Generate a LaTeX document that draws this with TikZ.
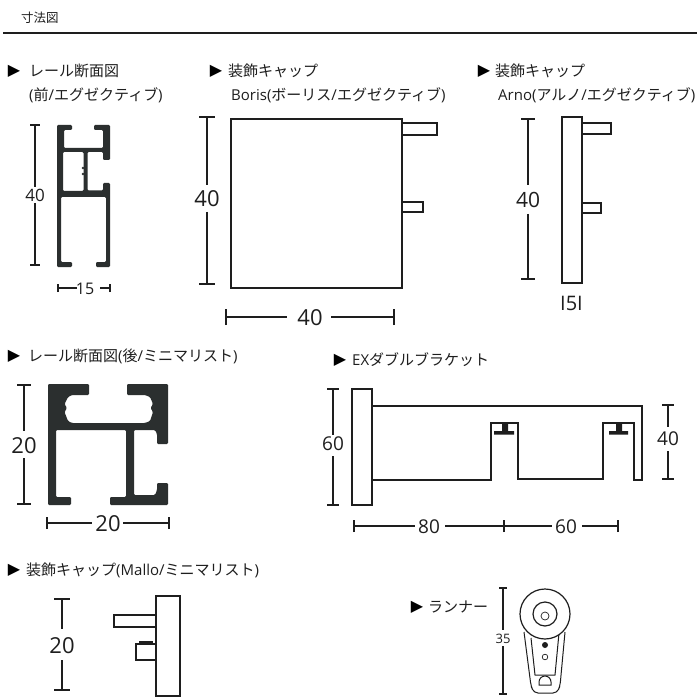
\documentclass[tikz,border=0pt]{standalone}
\usepackage{fontspec}
\setmainfont{Open Sans}
\newfontfamily\jp{Noto Sans CJK JP}
\newfontfamily\sym{DejaVu Sans}
\definecolor{ink}{HTML}{1E1E1E}
\definecolor{alu}{HTML}{2B2F2F}
\tikzset{
  part/.style={draw=ink,line width=1.5pt,fill=white},
  thin part/.style={draw=ink,line width=1pt},
  dimline/.style={draw=ink,line width=1.1pt},
  profile/.style={fill=alu,even odd rule,rounded corners=1.2pt},
  solid ink/.style={fill=ink},
  heading/.style={anchor=west,inner sep=0pt,text=ink,font=\fontsize{15}{17}\selectfont},
  mark tri/.style={anchor=center,inner sep=0pt,text=black,font=\sym\fontsize{16}{16}\selectfont},
  dimtext/.style={inner sep=0pt,text=ink}
}
% \vdimn{name}{x}{y1}{gapstart}{gapend}{y2}{half tick}{label y}{label}
\newcommand{\vdimn}[9]{%
  \coordinate (#1a) at (#2,#3);\coordinate (#1b) at (#2,#4);\coordinate (#1c) at (#2,#5);\coordinate (#1d) at (#2,#6);
  \draw[dimline] (#1a) -- (#1b) (#1c) -- (#1d);
  \draw[dimline] ([xshift=-#7pt]#1a) -- ([xshift=#7pt]#1a) ([xshift=-#7pt]#1d) -- ([xshift=#7pt]#1d);
  \lbl{#1t}{#2}{#8}{#9}}
\newcommand{\lbl}[4]{\node[dimtext,font=\fontsize{\dimsize}{\dimsize}\selectfont] (#1) at (#2,#3) {#4};}
\newcommand{\dimsize}{18}
\newcommand{\head}[5]{% name, tri x, text x, y, text
  \node[mark tri] (#1m) at (#2,#4) {▶};
  \node[heading] (#1) at (#3,#4) {#5};}
\begin{document}
\begin{tikzpicture}[x=1pt,y=-1pt]
\useasboundingbox (0,0) rectangle (700,700);
\fill[white] (0,0) rectangle (700,700);
% title
\node[heading,font=\fontsize{12.5}{15}\selectfont] (title) at (21,18) {\jp 寸法図};
\coordinate (ruleL) at (3,33); \coordinate (ruleR) at (697,33);
\draw[ink,line width=1.5pt] (ruleL) -- (ruleR);
% headings
\head{h1}{14}{29}{71}{\jp レール断面図}
\node[heading] (h1b) at (29,95) {(\jp 前\rmfamily/\jp エグゼクティブ\rmfamily)};
\head{h2}{216}{228}{71}{\jp 装飾キャップ}
\node[heading] (h2b) at (231,95) {Boris(\jp ボーリス\rmfamily/\jp エグゼクティブ\rmfamily)};
\head{h3}{484}{495}{71}{\jp 装飾キャップ}
\node[heading] (h3b) at (498,95) {Arno(\jp アルノ\rmfamily/\jp エグゼクティブ\rmfamily)};
\head{h4}{14}{28}{356}{\jp レール断面図\rmfamily(\jp 後\rmfamily/\jp ミニマリスト\rmfamily)}
\head{h5}{340}{352}{360}{EX\jp ダブルブラケット}
\head{h6}{14}{26}{570}{\jp 装飾キャップ\rmfamily(Mallo/\jp ミニマリスト\rmfamily)}
\head{h7}{417}{428}{607}{\jp ランナー}
% rail 1
\fill[profile] (57,125) -- (72,125) -- (72,130) -- (64,130) -- (64,148) -- (103,148) -- (103,130) -- (94,130) -- (94,125) -- (110,125) -- (110,160) -- (103,160) -- (103,152) -- (87.5,152) -- (87.5,190.5) -- (103,190.5) -- (103,183) -- (110,183) -- (110,267) -- (96,267) -- (96,262) -- (106,262) -- (106,197) -- (61,197) -- (61,262) -- (72,262) -- (72,267) -- (57,267) -- cycle
 (63,152) -- (83.5,152) -- (83.5,191) -- (63,191) -- cycle;
\fill[alu] (83,168) circle[radius=1.3pt] (83,174) circle[radius=1.3pt];
\renewcommand{\dimsize}{17}
\vdimn{d1}{35}{125}{187}{203}{265}{5}{195}{40}
\coordinate (d2a) at (58,288); \coordinate (d2b) at (77,288); \coordinate (d2c) at (100,288); \coordinate (d2d) at (110,288);
\draw[dimline] (d2a) -- (d2b) (d2c) -- (d2d);
\draw[dimline] ([yshift=-4pt]d2a) -- ([yshift=4pt]d2a) ([yshift=-4pt]d2d) -- ([yshift=4pt]d2d);
\renewcommand{\dimsize}{16}
\lbl{d2t}{85}{289}{15}
% Boris
\draw[part] (402,123) rectangle (437,135);
\draw[part] (402,202) rectangle (423,212);
\draw[part] (231,119) rectangle (402,288);
\renewcommand{\dimsize}{22}
\vdimn{d3}{207}{117}{185}{212}{284}{8}{199}{40}
\coordinate (d4a) at (226,317); \coordinate (d4b) at (287,317); \coordinate (d4c) at (331,317); \coordinate (d4d) at (394,317);
\draw[dimline] (d4a) -- (d4b) (d4c) -- (d4d);
\draw[dimline] ([yshift=-8pt]d4a) -- ([yshift=8pt]d4a) ([yshift=-8pt]d4d) -- ([yshift=8pt]d4d);
\lbl{d4t}{310}{318}{40}
% Arno
\draw[part] (582,123) rectangle (611,134);
\draw[part] (582,203) rectangle (601,213);
\draw[part] (562,117) rectangle (582,283);
\renewcommand{\dimsize}{21}
\vdimn{d5}{528}{119}{185}{214}{279}{7}{200}{40}
\renewcommand{\dimsize}{20}
\lbl{d6t}{571.5}{303}{I5I}
% rail 2
\fill[profile] (48,384) -- (89,384) -- (89,395) -- (72,395) -- (68,397) -- (64.5,404) -- (67,408) -- (64.5,412) -- (68,421) -- (72,423) -- (145,423) -- (150,421) -- (153,412) -- (150.5,408) -- (153,404) -- (150,397) -- (145,395) -- (127,395) -- (127,384) -- (168,384) -- (168,444) -- (157,444) -- (157,434) -- (155,430) -- (134,430) -- (134,495) -- (155,495) -- (157,490) -- (157,483) -- (168,483) -- (168,505) -- (110,505) -- (110,497) -- (126,497) -- (126,430) -- (56,430) -- (56,497) -- (71,497) -- (71,505) -- (48,505) -- cycle;
\renewcommand{\dimsize}{22}
\vdimn{d7}{24}{385}{431}{458}{504}{7}{446}{20}
\coordinate (d8a) at (47,523); \coordinate (d8b) at (92,523); \coordinate (d8c) at (123,523); \coordinate (d8d) at (169,523);
\draw[dimline] (d8a) -- (d8b) (d8c) -- (d8d);
\draw[dimline] ([yshift=-6pt]d8a) -- ([yshift=6pt]d8a) ([yshift=-6pt]d8d) -- ([yshift=6pt]d8d);
\lbl{d8t}{108}{524}{20}
% bracket
\draw[part,fill=none,line join=miter] (372,406) -- (642,406) -- (642,480) -- (634,480) -- (634,423) -- (603,423) -- (603,479) -- (518,479) -- (518,423) -- (491,423) -- (491,480) -- (372,480);
\draw[part] (352,389) rectangle (372,505);
\fill[solid ink] (502,423) rectangle (508,431) (494,431) rectangle (514,434.5);
\fill[solid ink] (616,423) rectangle (622,431) (609,431) rectangle (628,434.5);
\renewcommand{\dimsize}{19}
\vdimn{d9}{333}{389}{435}{456}{505}{6}{444}{60}
\vdimn{d10}{668}{405}{427}{451}{479}{6}{439}{40}
\coordinate (d11a) at (354,526); \coordinate (d11b) at (415,526); \coordinate (d11c) at (445,526); \coordinate (d11d) at (504,526); \coordinate (d11e) at (552,526); \coordinate (d11f) at (582,526); \coordinate (d11g) at (618,526);
\draw[dimline] (d11a) -- (d11b) (d11c) -- (d11e) (d11f) -- (d11g);
\draw[dimline] ([yshift=-6pt]d11a) -- ([yshift=6pt]d11a) ([yshift=-6pt]d11d) -- ([yshift=6pt]d11d) ([yshift=-6pt]d11g) -- ([yshift=6pt]d11g);
\lbl{d11t}{429}{527}{80}
\lbl{d12t}{566}{527}{60}
% Mallo
\draw[part] (114,615) rectangle (156,627);
\draw[part] (136,644) rectangle (156,660);
\fill[solid ink] (139,641) rectangle (153,644);
\draw[part] (156,596) rectangle (180,696);
\renewcommand{\dimsize}{22}
\vdimn{d13}{62}{599}{629}{660}{690}{8}{646}{20}
% runner
\renewcommand{\dimsize}{13}
\vdimn{d14}{503}{588}{630}{646}{694}{4}{639}{35}
\draw[thin part,rounded corners=4pt] (524,632) -- (531,686) -- (534,693) -- (557,693) -- (560,686) -- (565,632);
\draw[thin part] (531,638) -- (535,675) -- (555,675) -- (559,633);
\draw[part,line width=1.2pt] (545,614) circle[radius=25pt];
\draw[part,line width=1.2pt] (545,614) circle[radius=12pt];
\draw[thin part,line width=.7pt] (545,616) circle[radius=4pt];
\fill[solid ink] (545,645) circle[radius=3pt];
\draw[thin part,line width=.7pt] (545,657) circle[radius=2.8pt];
\draw[thin part] (539,685) -- (539,682) arc[start angle=180,end angle=0,radius=6pt] -- (551,685) -- cycle;
\end{tikzpicture}
\end{document}
